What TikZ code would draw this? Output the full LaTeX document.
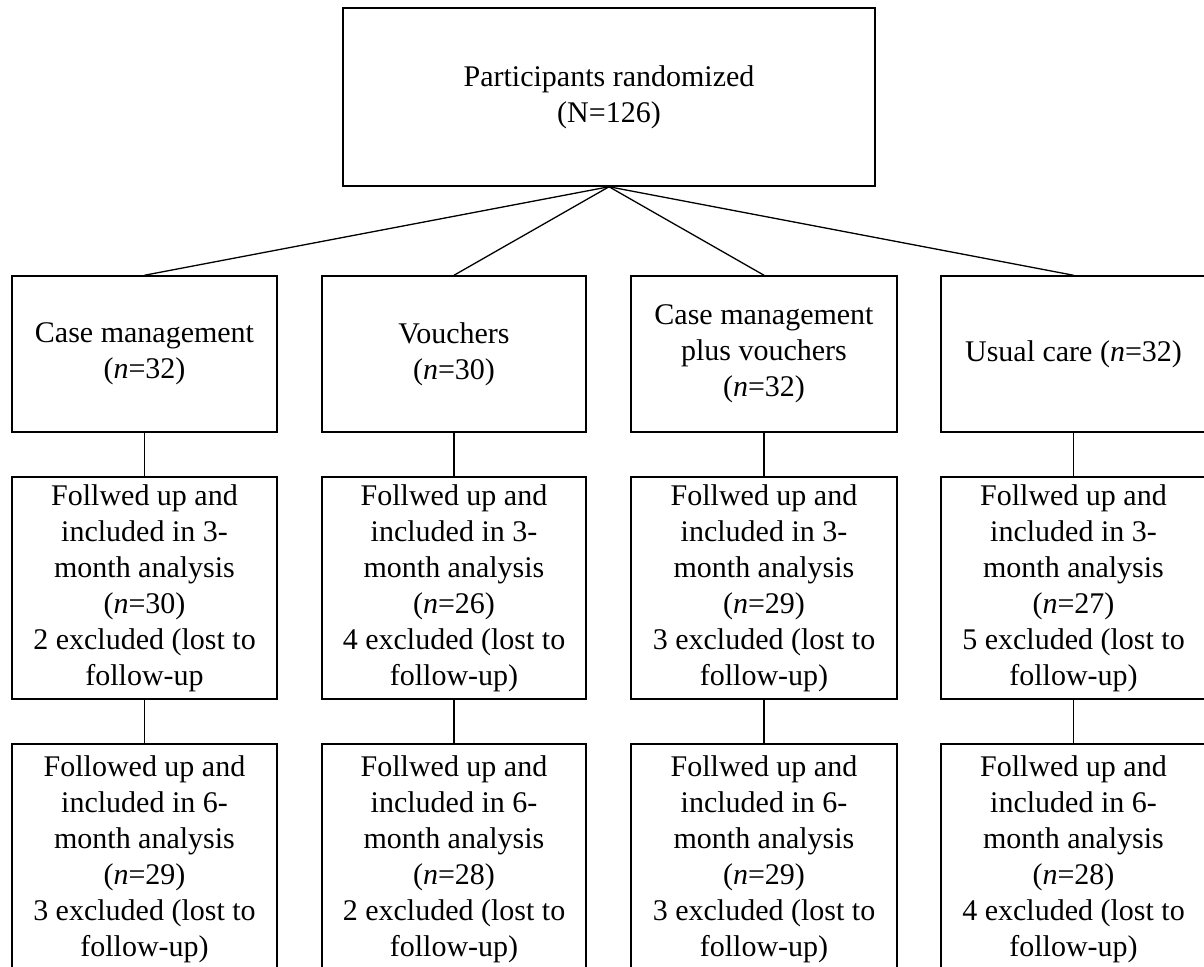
\documentclass[tikz,border=0pt]{standalone}
\usepackage{fontspec}
\setmainfont{Liberation Serif}
\begin{document}
\begin{tikzpicture}[x=1pt,y=-1pt,
  box/.style={draw,line width=1.5pt,rectangle,inner sep=0pt,align=center,
    font=\fontsize{30}{36}\selectfont},
  conn/.style={line width=1.3pt}]
\clip (0,0) rectangle (1204,966);
\fill[white] (0,0) rectangle (1204,966);
% top
\node[box,minimum width=532pt,minimum height=178pt] (top) at (609,97)
  {Participants randomized\\(N=126)};
% row 2
\node[box,minimum width=265pt,minimum height=156pt] (a1) at (144.5,354)
  {Case management\\(\textit{n}=32)};
\node[box,minimum width=264pt,minimum height=156pt] (b1) at (454,354)
  {Vouchers\\(\textit{n}=30)};
\node[box,minimum width=266pt,minimum height=156pt] (c1) at (764,354)
  {Case management\\plus vouchers\\(\textit{n}=32)};
\node[box,minimum width=265pt,minimum height=156pt] (d1) at (1073.5,354)
  {Usual care (\textit{n}=32)};
% row 3
\node[box,minimum width=265pt,minimum height=222pt] (a2) at (144.5,588)
  {Follwed up and\\included in 3-\\month analysis\\(\textit{n}=30)\\2 excluded (lost to\\follow-up};
\node[box,minimum width=264pt,minimum height=222pt] (b2) at (454,588)
  {Follwed up and\\included in 3-\\month analysis\\(\textit{n}=26)\\4 excluded (lost to\\follow-up)};
\node[box,minimum width=266pt,minimum height=222pt] (c2) at (764,588)
  {Follwed up and\\included in 3-\\month analysis\\(\textit{n}=29)\\3 excluded (lost to\\follow-up)};
\node[box,minimum width=265pt,minimum height=222pt] (d2) at (1073.5,588)
  {Follwed up and\\included in 3-\\month analysis\\(\textit{n}=27)\\5 excluded (lost to\\follow-up)};
% row 4
\node[box,minimum width=265pt,minimum height=230pt] (a3) at (144.5,859)
  {Followed up and\\included in 6-\\month analysis\\(\textit{n}=29)\\3 excluded (lost to\\follow-up)};
\node[box,minimum width=264pt,minimum height=230pt] (b3) at (454,859)
  {Follwed up and\\included in 6-\\month analysis\\(\textit{n}=28)\\2 excluded (lost to\\follow-up)};
\node[box,minimum width=266pt,minimum height=230pt] (c3) at (764,859)
  {Follwed up and\\included in 6-\\month analysis\\(\textit{n}=29)\\3 excluded (lost to\\follow-up)};
\node[box,minimum width=265pt,minimum height=230pt] (d3) at (1073.5,859)
  {Follwed up and\\included in 6-\\month analysis\\(\textit{n}=28)\\4 excluded (lost to\\follow-up)};
% connectors
\foreach \n in {a1,b1,c1,d1} \draw[conn] (top.south) -- (\n.north);
\foreach \u/\v in {a1/a2,b1/b2,c1/c2,d1/d2,a2/a3,b2/b3,c2/c3,d2/d3}
  \draw[conn] (\u.south) -- (\v.north);
\end{tikzpicture}
\end{document}
